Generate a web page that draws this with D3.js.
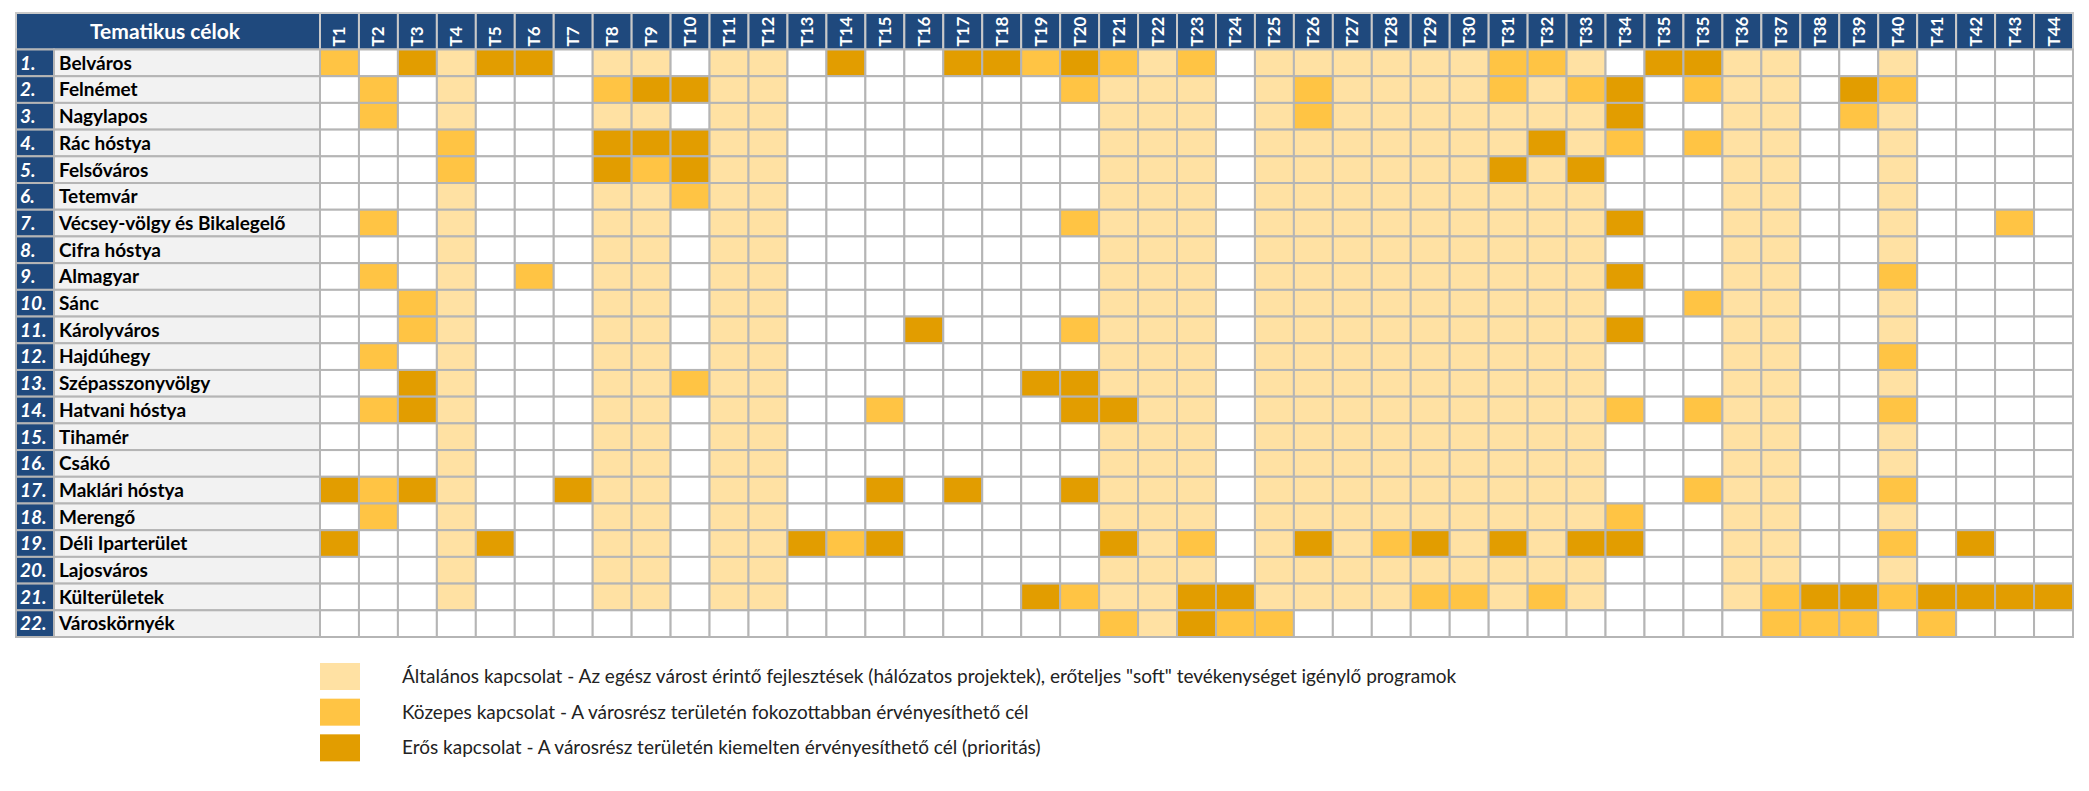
<!DOCTYPE html>
<html lang="hu">
<head>
    <meta charset="UTF-8">
    <title>Tematikus célok - városrészek</title>
    <script src="https://d3js.org/d3.v7.min.js"></script>
    <style>
        body {
            margin: 0;
            background-color: #ffffff;
            font-family: Lato, 'Open Sans', Arial, sans-serif;
        }
        .colhead {
            font-weight: bold;
            font-size: 17px;
            fill: #ffffff;
        }
        .rownum {
            font-weight: bold;
            font-style: italic;
            font-size: 19px;
            fill: #ffffff;
        }
        .rowname {
            font-weight: bold;
            font-size: 19px;
            fill: #000000;
        }
        .legend text {
            font-size: 19px;
            fill: #222;
        }
    </style>
</head>
<body>

    <svg width="2089" height="791" class="chart"></svg>

    <script>
        // Districts (rows)
        const districts = [
            "Belváros", "Felnémet", "Nagylapos", "Rác hóstya", "Felsőváros", "Tetemvár",
            "Vécsey-völgy és Bikalegelő", "Cifra hóstya", "Almagyar", "Sánc", "Károlyváros",
            "Hajdúhegy", "Szépasszonyvölgy", "Hatvani hóstya", "Tihamér", "Csákó",
            "Maklári hóstya", "Merengő", "Déli Iparterület", "Lajosváros", "Külterületek",
            "Városkörnyék"
        ];

        // Thematic goals (columns), T35 appears twice in the original
        const goals = [
            "T1", "T2", "T3", "T4", "T5", "T6", "T7", "T8", "T9", "T10",
            "T11", "T12", "T13", "T14", "T15", "T16", "T17", "T18", "T19", "T20",
            "T21", "T22", "T23", "T24", "T25", "T26", "T27", "T28", "T29", "T30",
            "T31", "T32", "T33", "T34", "T35", "T35", "T36", "T37", "T38", "T39",
            "T40", "T41", "T42", "T43", "T44"
        ];

        // Connection level per district, one digit per goal column
        // 0 = none, 1 = általános, 2 = közepes, 3 = erős
        // groups: T1-T10 | T11-T20 | T21-T30 | T31-T34 | T35 T35 | T36-T44
        const levels = [
            "2031330110 1103003323 2120111111 2210 33 110010000",
            "0201000233 1100000002 1110121111 2123 02 110320000",
            "0201000110 1100000000 1110121111 1113 00 110210000",
            "0002000333 1100000000 1110111111 1312 02 110010000",
            "0002000323 1100000000 1110111111 3130 00 110010000",
            "0001000112 1100000000 1110111111 1110 00 110010000",
            "0201000110 1100000002 1110111111 1113 00 110010020",
            "0001000110 1100000000 1110111111 1110 00 110010000",
            "0201020110 1100000000 1110111111 1113 00 110020000",
            "0021000110 1100000000 1110111111 1110 02 110010000",
            "0021000110 1100030002 1110111111 1113 00 110010000",
            "0201000110 1100000000 1110111111 1110 00 110020000",
            "0031000112 1100000033 1110111111 1110 00 110010000",
            "0231000110 1100200003 3110111111 1112 02 110020000",
            "0001000110 1100000000 1110111111 1110 00 110010000",
            "0001000110 1100000000 1110111111 1110 00 110010000",
            "3231003110 1100303003 1110111111 1110 02 110020000",
            "0201000110 1100000000 1110111111 1112 00 110010000",
            "3001300110 1132300000 3120131231 3133 00 110020300",
            "0001000110 1100000000 1110111111 1110 00 110010000",
            "0001000110 1100000032 1133111122 1210 00 123323333",
            "0000000000 0000000000 2132200000 0000 00 022202000"
        ];

        const levelColors = ["#ffffff", "#ffe1a3", "#ffc444", "#e29d00"];

        const legendLabels = [
            "Általános kapcsolat - Az egész várost érintő fejlesztések (hálózatos projektek), erőteljes \"soft\" tevékenységet igénylő programok",
            "Közepes kapcsolat - A városrész területén fokozottabban érvényesíthető cél",
            "Erős kapcsolat - A városrész területén kiemelten érvényesíthető cél (prioritás)"
        ];

        const headerTitle = "Tematikus célok";

        // Build cell table
        const cells = [];
        levels.forEach((row, r) => {
            row.replace(/ /g, "").split("").forEach((v, c) => {
                cells.push({ row: r, col: c, level: +v });
            });
        });

        const svg = d3.select(".chart");
        const blue = "#1f497d";
        const gridColor = "#b5b5b5";

        const left = 16, numRight = 54, nameRight = 320, right = 2073;
        const headTop = 13, headBottom = 49.5, bottom = 637;

        const x = d3.scaleBand()
            .domain(d3.range(goals.length))
            .range([nameRight, right]);

        const y = d3.scaleBand()
            .domain(d3.range(districts.length))
            .range([headBottom, bottom]);

        // Header
        svg.append("rect")
            .attr("x", left).attr("y", headTop)
            .attr("width", nameRight - left).attr("height", headBottom - headTop)
            .attr("fill", blue).attr("stroke", "#c9c9c9").attr("stroke-width", 2);

        svg.append("text")
            .attr("x", (left + nameRight) / 2 - 3)
            .attr("y", (headTop + headBottom) / 2)
            .attr("dy", "0.35em")
            .attr("text-anchor", "middle")
            .style("font-weight", "bold")
            .style("font-size", "21px")
            .style("fill", "#fff")
            .text(headerTitle);

        svg.selectAll(".headcell")
            .data(goals)
            .enter()
            .append("rect")
            .attr("class", "headcell")
            .attr("x", (d, i) => x(i))
            .attr("y", headTop)
            .attr("width", x.bandwidth())
            .attr("height", headBottom - headTop)
            .attr("fill", blue)
            .attr("stroke", "#c9c9c9")
            .attr("stroke-width", 2);

        svg.selectAll(".colhead")
            .data(goals)
            .enter()
            .append("text")
            .attr("class", "colhead")
            .attr("transform", (d, i) => `translate(${x(i) + x.bandwidth() / 2 + 6}, ${headBottom - 3}) rotate(-90)`)
            .text(d => d);

        // Row labels
        svg.selectAll(".numcell")
            .data(districts)
            .enter()
            .append("rect")
            .attr("x", left)
            .attr("y", (d, i) => y(i))
            .attr("width", numRight - left)
            .attr("height", y.bandwidth())
            .attr("fill", blue)
            .attr("stroke", gridColor)
            .attr("stroke-width", 2);

        svg.selectAll(".namecell")
            .data(districts)
            .enter()
            .append("rect")
            .attr("x", numRight)
            .attr("y", (d, i) => y(i))
            .attr("width", nameRight - numRight)
            .attr("height", y.bandwidth())
            .attr("fill", "#f2f2f2")
            .attr("stroke", gridColor)
            .attr("stroke-width", 2);

        svg.selectAll(".rownum")
            .data(districts)
            .enter()
            .append("text")
            .attr("class", "rownum")
            .attr("x", left + 4)
            .attr("y", (d, i) => y(i) + y.bandwidth() / 2)
            .attr("dy", "0.36em")
            .text((d, i) => (i + 1) + ".");

        svg.selectAll(".rowname")
            .data(districts)
            .enter()
            .append("text")
            .attr("class", "rowname")
            .attr("x", numRight + 5)
            .attr("y", (d, i) => y(i) + y.bandwidth() / 2)
            .attr("dy", "0.36em")
            .text(d => d);

        // Matrix cells
        svg.selectAll(".cell")
            .data(cells)
            .enter()
            .append("rect")
            .attr("class", "cell")
            .attr("x", d => x(d.col))
            .attr("y", d => y(d.row))
            .attr("width", x.bandwidth())
            .attr("height", y.bandwidth())
            .attr("fill", d => levelColors[d.level])
            .attr("stroke", gridColor)
            .attr("stroke-width", 2);

        // Legend
        const legend = svg.append("g").attr("class", "legend");
        const ly = d3.scaleBand()
            .domain(d3.range(legendLabels.length))
            .range([663, 770]);

        legend.selectAll("rect")
            .data(legendLabels)
            .enter()
            .append("rect")
            .attr("x", 320)
            .attr("y", (d, i) => ly(i))
            .attr("width", 40)
            .attr("height", 27)
            .attr("fill", (d, i) => levelColors[i + 1]);

        legend.selectAll("text")
            .data(legendLabels)
            .enter()
            .append("text")
            .attr("x", 402)
            .attr("y", (d, i) => ly(i) + 13.5)
            .attr("dy", "0.35em")
            .text(d => d);
    </script>
</body>
</html>
